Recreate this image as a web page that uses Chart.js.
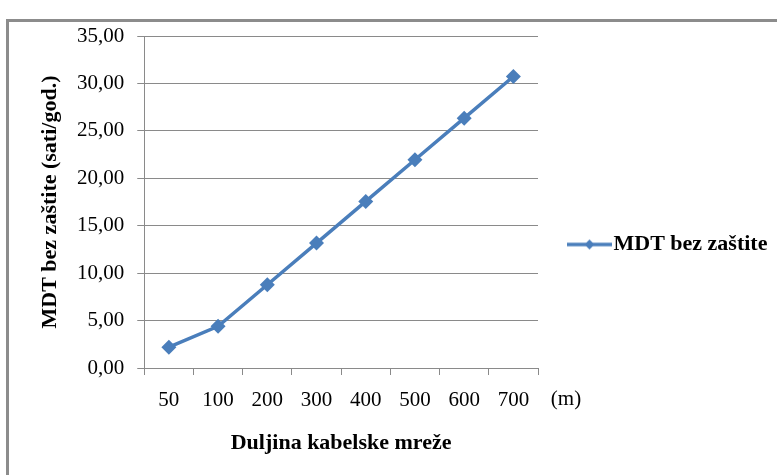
<!DOCTYPE html>
<html>
<head>
<meta charset="utf-8">
<script src="https://cdn.jsdelivr.net/npm/chart.js@4/dist/chart.umd.min.js"></script>
<style>
  html, body { margin: 0; padding: 0; background: #ffffff; }
  #wrap { position: relative; width: 777px; height: 475px; }
</style>
</head>
<body>
<div id="wrap"><canvas id="c" width="777" height="475"></canvas></div>
<script>
const categories = ['50', '100', '200', '300', '400', '500', '600', '700'];
const mdtValues = [2.19, 4.39, 8.78, 13.17, 17.56, 21.95, 26.34, 30.73];
const seriesName = 'MDT bez zaštite';
const yTitle = 'MDT bez zaštite (sati/god.)';
const xTitle = 'Duljina kabelske mreže';
const unitLabel = '(m)';

const BLUE = '#4A7EBB';
const GRID = '#8a8a8a';
const FONT = "'Liberation Serif', 'Times New Roman', serif";

// legend symbol: line with diamond
const sym = document.createElement('canvas');
sym.width = 45; sym.height = 16;
(function () {
  const g = sym.getContext('2d');
  g.strokeStyle = BLUE; g.lineWidth = 3.5;
  g.beginPath(); g.moveTo(0, 8); g.lineTo(45, 8); g.stroke();
  g.fillStyle = BLUE;
  g.beginPath(); g.moveTo(22.5, 3); g.lineTo(27.5, 8); g.lineTo(22.5, 13); g.lineTo(17.5, 8); g.closePath(); g.fill();
})();

const framePlugin = {
  id: 'frame',
  beforeDraw(chart) {
    const ctx = chart.ctx;
    ctx.save();
    ctx.strokeStyle = '#8c8c8c';
    ctx.lineWidth = 3;
    ctx.strokeRect(7.5, 20.5, 900, 600);
    ctx.restore();
  },
  afterDraw(chart) {
    const ctx = chart.ctx;
    const xs = chart.scales.x;
    ctx.save();
    ctx.font = "21px " + FONT;
    ctx.fillStyle = '#000';
    ctx.textAlign = 'center';
    ctx.textBaseline = 'middle';
    ctx.fillText(unitLabel, 566, xs.top + 31);
    ctx.restore();
  }
};

const legendWidthPlugin = {
  id: 'legendWidth',
  afterInit(chart) {
    const lg = chart.legend;
    if (!lg) return;
    const orig = lg.fit.bind(lg);
    lg.fit = function () { orig(); this.width = 239; };
  }
};

new Chart(document.getElementById('c'), {
  type: 'line',
  data: {
    labels: categories,
    datasets: [{
      label: seriesName,
      data: mdtValues,
      borderColor: BLUE,
      backgroundColor: BLUE,
      borderWidth: 3.5,
      pointStyle: 'rectRot',
      pointRadius: 7.5,
      pointHoverRadius: 7.5,
      pointBackgroundColor: BLUE,
      pointBorderColor: BLUE,
      pointBorderWidth: 0,
      tension: 0,
      fill: false
    }]
  },
  options: {
    responsive: false,
    animation: false,
    devicePixelRatio: 1,
    layout: { padding: { top: 36, left: 39, right: 0, bottom: 22 } },
    plugins: {
      title: { display: false },
      tooltip: { enabled: false },
      legend: {
        display: true,
        position: 'right',
        align: 'center',
        labels: {
          usePointStyle: true,
          pointStyle: sym,
          pointStyleWidth: 26,
          padding: 38.5,
          color: '#000',
          font: { family: FONT, size: 22, weight: 'bold' }
        }
      }
    },
    scales: {
      x: {
        type: 'category',
        offset: true,
        grid: {
          display: true,
          offset: true,
          drawOnChartArea: false,
          drawTicks: true,
          tickLength: 7,
          color: GRID,
          lineWidth: 1
        },
        border: { display: true, color: GRID, width: 1 },
        ticks: {
          color: '#000',
          padding: 13,
          maxRotation: 0,
          autoSkip: false,
          font: { family: FONT, size: 21 }
        },
        title: {
          display: true,
          text: xTitle,
          color: '#000',
          padding: { top: 7, bottom: 0 },
          font: { family: FONT, size: 22, weight: 'bold', lineHeight: 0.9 }
        }
      },
      y: {
        min: 0,
        max: 35,
        grid: {
          display: true,
          drawOnChartArea: true,
          drawTicks: true,
          tickLength: 7,
          color: GRID,
          lineWidth: 1
        },
        border: { display: true, color: GRID, width: 1 },
        ticks: {
          stepSize: 5,
          color: '#000',
          padding: 13,
          font: { family: FONT, size: 21 },
          callback: (v) => Number(v).toFixed(2).replace('.', ',')
        },
        title: {
          display: true,
          text: yTitle,
          color: '#000',
          padding: { top: 0, bottom: 3 },
          font: { family: FONT, size: 22, weight: 'bold', lineHeight: 1 }
        }
      }
    }
  },
  plugins: [framePlugin, legendWidthPlugin]
});
</script>
</body>
</html>
